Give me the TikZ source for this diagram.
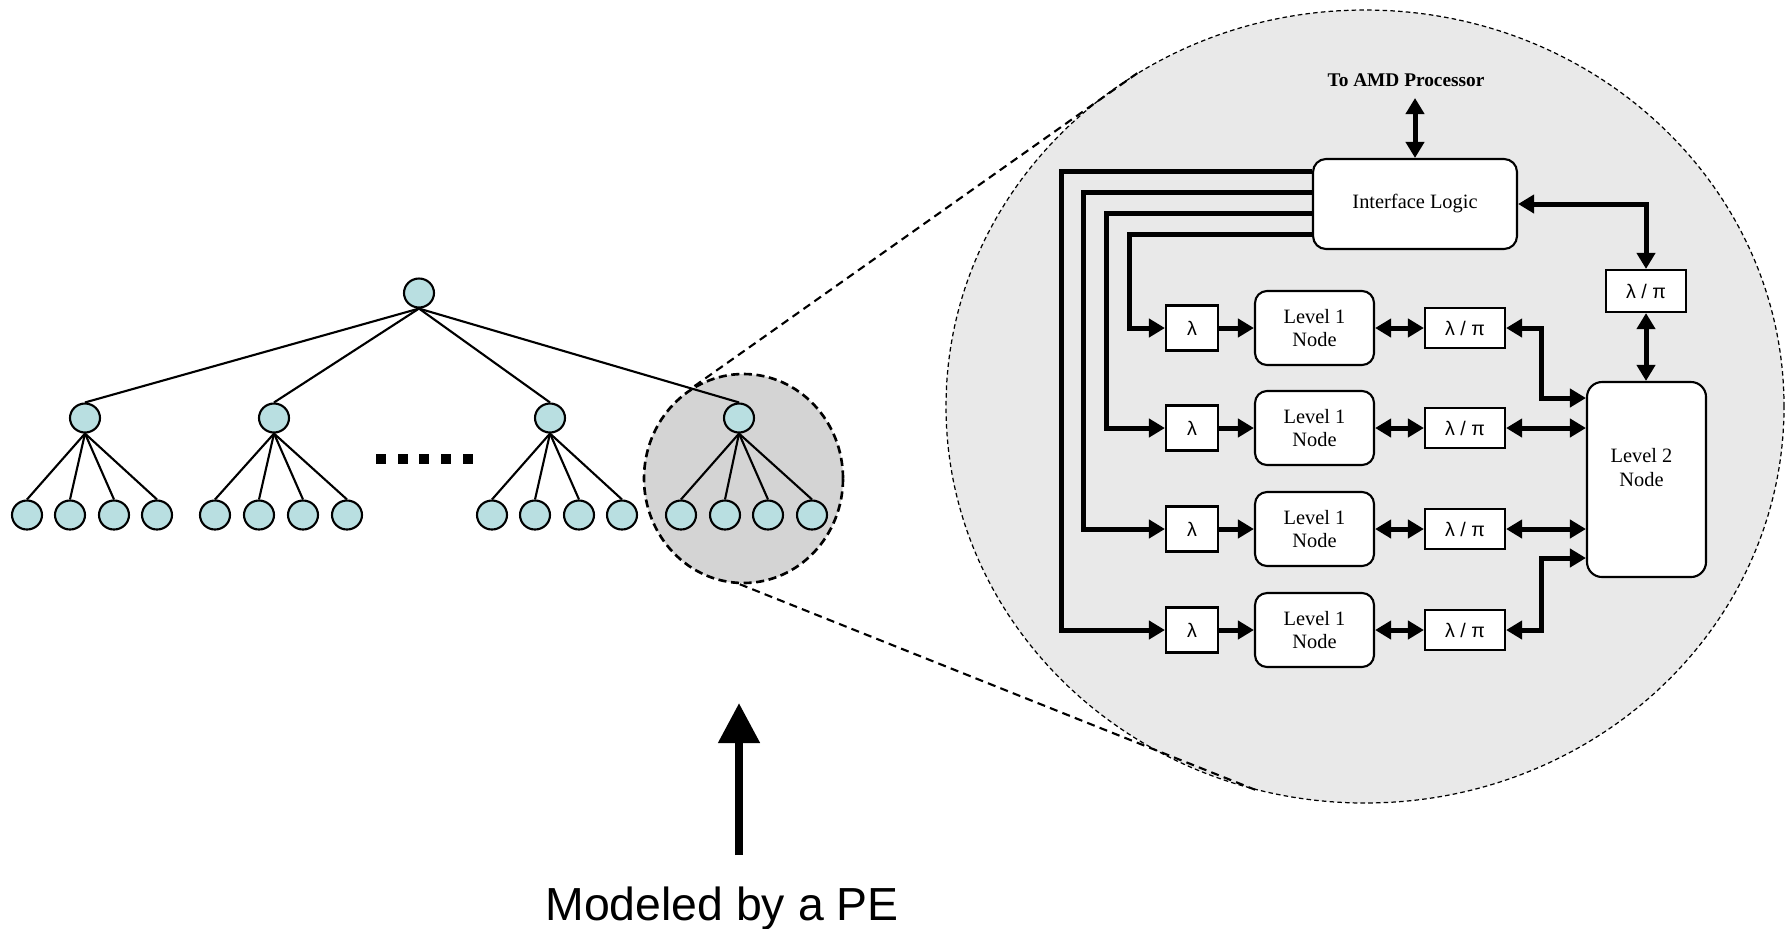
\documentclass[tikz,border=0pt]{standalone}
\usepackage{fontspec}
\setmainfont{Liberation Serif}
\newfontfamily\arialfam{Liberation Sans}
\usetikzlibrary{arrows.meta,calc,shapes.geometric}

\definecolor{leafcyan}{RGB}{185,223,225}
\definecolor{zonegray}{RGB}{212,212,212}
\definecolor{bubblegray}{RGB}{233,233,233}

\begin{document}
\begin{tikzpicture}[x=0.1mm,y=-0.1mm,
  treenode/.style={ellipse, draw, line width=0.6pt, fill=leafcyan,
    minimum width=3.0mm, minimum height=2.9mm, inner sep=0pt},
  treeedge/.style={line width=0.6pt},
  dotsq/.style={rectangle, fill=black, minimum width=1.0mm, minimum height=1.0mm, inner sep=0pt},
  pezone/.style={ellipse, fill=zonegray, draw, line width=0.75pt,
    dash pattern=on 2.3pt off 1.3pt, inner sep=0pt},
  bubble/.style={ellipse, fill=bubblegray, draw, line width=0.35pt,
    dash pattern=on 1.3pt off 0.9pt, inner sep=0pt},
  zoomline/.style={line width=0.6pt, dash pattern=on 2.3pt off 1.5pt},
  lbl/.style={font=\fontsize{5.8}{6.8}\selectfont, align=center},
  sanslbl/.style={font=\arialfam\fontsize{5.6}{6.6}\selectfont},
  box/.style={draw, line width=0.6pt, fill=white, inner sep=0pt, align=center},
  rbox/.style={box, rounded corners=1.3mm},
  bus/.style={line width=0.5mm, -{Triangle[length=1.6mm,width=1.8mm]}},
  dbl/.style={line width=0.5mm, {Triangle[length=1.6mm,width=1.8mm]}-{Triangle[length=1.6mm,width=1.8mm]}},
  bigarrow/.style={line width=0.8mm, -{Triangle[length=4mm,width=4mm]}}
]
\useasboundingbox (0,0) rectangle (1786,928);

% ---------- magnified view of one processing element ----------
\node[bubble, minimum width=83.8mm, minimum height=79.3mm] (zoom) at (1365,406.5) {};
\node[pezone, minimum width=19.9mm, minimum height=20.9mm] (pe) at (743.5,478.5) {};
\draw[zoomline] (pe.118) -- (zoom.124.3);
\draw[zoomline] (pe.268) -- (zoom.254.6);

% ---------- tree ----------
\node[treenode] (r) at (419,293) {};
\node[treenode] (a1) at (85,418) {};
\node[treenode] (a2) at (274,418) {};
\node[treenode] (a3) at (550,418) {};
\node[treenode] (a4) at (739,418) {};
\foreach \i/\x in {1/27,2/70,3/114,4/157}{\node[treenode] (b1\i) at (\x,515) {};}
\foreach \i/\x in {1/215,2/259,3/303,4/347}{\node[treenode] (b2\i) at (\x,515) {};}
\foreach \i/\x in {1/492,2/535,3/579,4/622}{\node[treenode] (b3\i) at (\x,515) {};}
\foreach \i/\x in {1/681,2/725,3/768,4/812}{\node[treenode] (b4\i) at (\x,515) {};}
\foreach \j in {1,2,3,4}{
  \draw[treeedge] (r.south) -- (a\j.north);
  \foreach \i in {1,2,3,4}{\draw[treeedge] (a\j.south) -- (b\j\i.north);}
}
\foreach \i/\x in {1/381,2/402.5,3/424,4/445.5,5/467.5}{\node[dotsq] (dot\i) at (\x,459) {};}

% ---------- caption with arrow ----------
\node[font=\arialfam\fontsize{13.2}{15}\selectfont, anchor=base, inner sep=0pt] (pelabel) at (722,920) {Modeled by a PE};
\coordinate (petail) at (739,855);
\coordinate (petip) at (739,703);
\draw[bigarrow] (petail) -- (petip);

% ---------- block diagram ----------
\node[font=\bfseries\fontsize{5.5}{6.5}\selectfont, inner sep=0pt] (amd) at (1406,80) {To AMD Processor};
\node[rbox, lbl, minimum width=20.4mm, minimum height=9.0mm] (IL) at (1415,204) {Interface Logic};
\coordinate (amdport) at (1415,98);
\draw[dbl] (amdport) -- (IL.north);

\foreach \k/\y in {1/328,2/428,3/529,4/630}{
  \node[box, sanslbl, minimum width=5.2mm, minimum height=4.5mm] (lam\k) at (1192,\y) {λ};
  \node[rbox, lbl, rounded corners=1.2mm, minimum width=11.9mm, minimum height=7.4mm] (lone\k) at (1314.5,\y) {Level 1\\Node};
  \node[box, sanslbl, minimum width=8.0mm, minimum height=4.0mm] (lp\k) at (1465,\y) {λ / π};
  \draw[bus] (lam\k.east) -- (lone\k.west);
  \draw[dbl] (lone\k.east) -- (lp\k.west);
}

\node[box, sanslbl, minimum width=8.0mm, minimum height=4.2mm] (lpt) at (1646,291) {λ / π};
\node[rbox, rounded corners=1.5mm, minimum width=11.9mm, minimum height=19.5mm] (ltwo) at (1646.5,479.5) {};
\node[lbl, inner sep=0pt] (ltwotext) at ($(ltwo)+(-5,-12)$) {Level 2\\Node};

% buses from the interface logic to the lambda stages
\draw[bus] ($(IL.west)+(0,-33)$) -| ($(lam4.west)+(-103,0)$) -- (lam4.west);
\draw[bus] ($(IL.west)+(0,-12)$) -| ($(lam3.west)+(-81,0)$) -- (lam3.west);
\draw[bus] ($(IL.west)+(0,9)$) -| ($(lam2.west)+(-58,0)$) -- (lam2.west);
\draw[bus] ($(IL.west)+(0,30)$) -| ($(lam1.west)+(-35,0)$) -- (lam1.west);

% links into the level 2 node
\draw[dbl] (lp1.east) -- ++(35,0) |- ($(ltwo.west)+(0,-81.5)$);
\draw[dbl] (lp2.east) -- (ltwo.west |- lp2.east);
\draw[dbl] (lp3.east) -- (ltwo.west |- lp3.east);
\draw[dbl] (lp4.east) -- ++(35,0) |- ($(ltwo.west)+(0,78.5)$);

\draw[dbl] (IL.east) -| (lpt.north);
\draw[dbl] (lpt.south) -- (lpt.south |- ltwo.north);
\end{tikzpicture}
\end{document}
